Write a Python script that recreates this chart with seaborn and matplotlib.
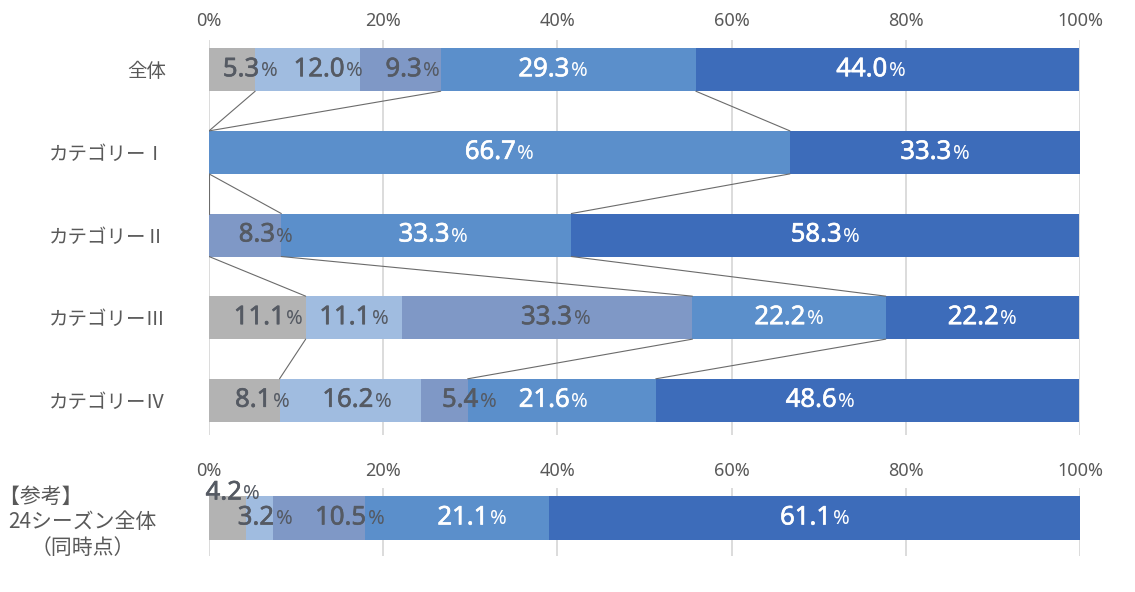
import matplotlib
matplotlib.use("Agg")
import matplotlib.pyplot as plt
import matplotlib.patheffects as pe
import seaborn as sns
import numpy as np
import pandas as pd
from matplotlib.offsetbox import TextArea, HPacker, AnnotationBbox

# data (percent shares per category, left to right)
categories = ["全体", "カテゴリーⅠ", "カテゴリーⅡ", "カテゴリーⅢ", "カテゴリーⅣ"]
s_gray = [5.3, 0, 0, 11.1, 8.1]
s_light = [12.0, 0, 0, 11.1, 16.2]
s_slate = [9.3, 0, 8.3, 33.3, 5.4]
s_blue = [29.3, 66.7, 33.3, 22.2, 21.6]
s_dark = [44.0, 33.3, 58.3, 22.2, 48.6]

ref_category = ["【参考】　　　　\n24シーズン全体\n（同時点）"]
ref_values = [4.2, 3.2, 10.5, 21.1, 61.1]

ticks = [0, 20, 40, 60, 80, 100]
tick_labels = [f"{t}%" for t in ticks]

colors = ["#b3b3b3", "#a0bce0", "#7f98c6", "#5b8fcb", "#3d6cba"]
text_colors = ["#555a63", "#555a63", "#555a63", "white", "white"]
# series that get connector lines between rows
linked = [0, 2, 3]

# hand-placed label nudges as in the original (points, keyed by row, series)
label_nudge = {
    (0, 0): 13, (0, 1): 15, (0, 2): 9, (0, 3): -11, (0, 4): -12,
    (2, 2): 15, (2, 3): 5,
    (3, 0): 8, (3, 2): 6,
    (4, 0): 13, (4, 1): 5, (4, 2): 18, (4, 3): -6, (4, 4): -34,
}
ref_nudge = {0: (4, 18), 1: (4, 0), 2: (22, 0), 3: (11, 0)}

sns.set_style("white")
plt.rcParams["font.family"] = ["Noto Sans", "Noto Sans CJK JP", "DejaVu Sans"]

fig = plt.figure(figsize=(11.35, 5.92), dpi=100)
W, H = 1135, 592
ax = fig.add_axes([209 / W, 1 - 435 / H, 871 / W, 395 / H])
ax2 = fig.add_axes([209 / W, 1 - 556 / H, 871 / W, 68 / H])

BAR_H = 0.52


def draw_label(a, x, y, val, color, offset=(0, 0)):
    thick = [pe.withStroke(linewidth=0.45, foreground=color)]
    num = TextArea(f"{val:.1f}", textprops=dict(color=color, fontsize=18.5,
                                                 family=["Noto Sans"],
                                                 path_effects=thick))
    pct = TextArea("%", textprops=dict(color=color, fontsize=14.5,
                                        family=["Noto Sans"]))
    box = HPacker(children=[num, pct], align="baseline", pad=0, sep=1)
    ab = AnnotationBbox(box, (x, y), xybox=offset, xycoords="data",
                        boxcoords="offset points", frameon=False,
                        box_alignment=(0.5, 0.5), pad=0)
    a.add_artist(ab)


def stacked(a, cats, series):
    data = np.array(series, dtype=float)  # shape (n_series, n_cats)
    cum = np.cumsum(data, axis=0)
    df = pd.DataFrame({"cat": cats})
    # draw longest first so shorter cumulative bars sit on top
    for k in range(len(series) - 1, -1, -1):
        df["v"] = cum[k]
        sns.barplot(data=df, x="v", y="cat", order=cats, orient="h",
                    color=colors[k], saturation=1, width=BAR_H,
                    linewidth=0, ax=a)
    return data, cum


def style_axis(a, pad, ysize):
    a.set_xlim(0, 100)
    a.set_xticks(ticks)
    a.set_xticklabels(tick_labels)
    a.xaxis.tick_top()
    a.tick_params(axis="x", length=0, pad=pad, labelsize=13,
                  labelcolor="#595959")
    a.tick_params(axis="y", length=0, pad=31, labelsize=ysize,
                  labelcolor="#595959")
    a.grid(axis="x", color="#d9d9d9", linewidth=1.3)
    a.grid(axis="y", visible=False)
    a.set_axisbelow(True)
    for s in a.spines.values():
        s.set_visible(False)
    a.set_xlabel("")
    a.set_ylabel("")


# main chart
series = [s_gray, s_light, s_slate, s_blue, s_dark]
data, cum = stacked(ax, categories, series)
ax.set_ylim(4.42, -0.36)
style_axis(ax, 7, 14)

for k in linked:
    for i in range(len(categories) - 1):
        ax.plot([cum[k][i], cum[k][i + 1]],
                [i + BAR_H / 2, i + 1 - BAR_H / 2],
                color="#6b6b6b", linewidth=0.8, zorder=1)

for k in range(len(series)):
    for i in range(len(categories)):
        v = data[k][i]
        if v > 0:
            dx = label_nudge.get((i, k), 0)
            draw_label(ax, cum[k][i] - v / 2, i, v, text_colors[k],
                       offset=(dx, 0))

# reference row
ref_series = [[v] for v in ref_values]
rdata, rcum = stacked(ax2, ref_category, ref_series)
ax2.set_ylim(0.45, -0.355)
style_axis(ax2, 6, 15)
for lbl in ax2.get_yticklabels():
    lbl.set_fontfamily(["Noto Sans CJK JP", "DejaVu Sans"])
    lbl.set_multialignment("center")
    lbl.set_linespacing(1.2)

for k in range(len(ref_values)):
    v = rdata[k][0]
    draw_label(ax2, rcum[k][0] - v / 2, 0, v, text_colors[k],
               offset=ref_nudge.get(k, (0, 0)))

fig.savefig("out.png", dpi=100)
